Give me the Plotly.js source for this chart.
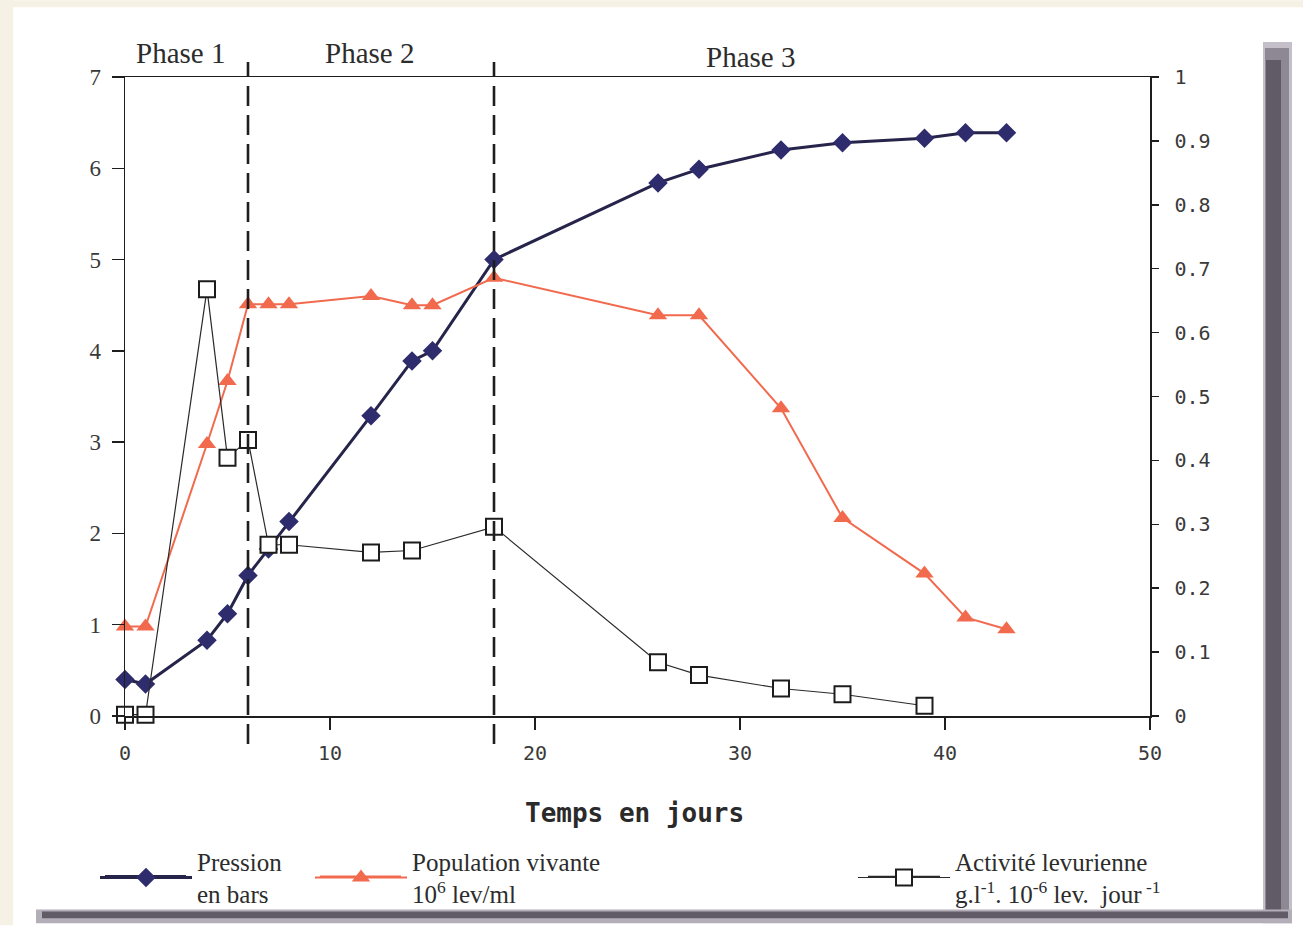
<!DOCTYPE html>
<html>
<head>
<meta charset="utf-8">
<script src="https://cdn.plot.ly/plotly-3.0.1.min.js"></script>
<style>
  html, body { margin: 0; padding: 0; background: #ffffff; }
  #chart { width: 1303px; height: 928px; }
</style>
</head>
<body>
<div id="chart"></div>
<script>
// ---- Data ----
const daysPression = [0, 1, 4, 5, 6, 7, 8, 12, 14, 15, 18, 26, 28, 32, 35, 39, 41, 43];
const pression     = [0.40, 0.35, 0.83, 1.12, 1.54, 1.83, 2.13, 3.29, 3.89, 4.00, 5.00, 5.84, 5.99, 6.20, 6.28, 6.33, 6.39, 6.39];

const daysPopulation = [0, 1, 4, 5, 6, 7, 8, 12, 14, 15, 18, 26, 28, 32, 35, 39, 41, 43];
const population     = [0.98, 0.98, 2.98, 3.67, 4.51, 4.51, 4.51, 4.60, 4.50, 4.50, 4.80, 4.39, 4.39, 3.37, 2.17, 1.56, 1.08, 0.95];

const daysActivite = [0, 1, 4, 5, 6, 7, 8, 12, 14, 18, 26, 28, 32, 35, 39];
const activite     = [0.002, 0.002, 0.668, 0.404, 0.432, 0.268, 0.268, 0.256, 0.259, 0.296, 0.084, 0.064, 0.043, 0.034, 0.016];

const phaseBounds = [6, 18];
const phaseLabels = ["Phase 1", "Phase 2", "Phase 3"];
const phaseLabelX = [2.7, 11.95, 30.5];

const xTicks = [0, 10, 20, 30, 40, 50];
const yLeftTicks = [0, 1, 2, 3, 4, 5, 6, 7];
const yRightTicks = [0, 0.1, 0.2, 0.3, 0.4, 0.5, 0.6, 0.7, 0.8, 0.9, 1];

const legendNames = [
  "Pression<br>en bars",
  "Population vivante<br>10<sup>6</sup> lev/ml",
  "Activité levurienne<br>g.l<sup>-1</sup>. 10<sup>-6</sup> lev.  jour<sup> -1</sup>"
];

// ---- Geometry helpers (pixel -> paper) ----
const W = 1303, H = 928;
const M = { l: 125, r: 153, t: 77, b: 210 };
const PW = W - M.l - M.r, PH = H - M.t - M.b;
const px = v => (v - M.l) / PW;
const py = v => (H - M.b - v) / PH;

const navy = '#2e2c6c';
const navyLine = '#26244a';
const salmon = '#f26a4e';
const ink = '#1c1c1c';
const serif = 'Liberation Serif, Times New Roman, serif';
const mono = 'DejaVu Sans Mono, Liberation Mono, monospace';

const traces = [
  {
    x: daysPression, y: pression, name: legendNames[0],
    type: 'scatter', mode: 'lines+markers', xaxis: 'x', yaxis: 'y',
    line: { color: navyLine, width: 3 },
    marker: { symbol: 'diamond', size: 15, color: navy, line: { width: 0 } },
    cliponaxis: false, legend: 'legend'
  },
  {
    x: daysPopulation, y: population, name: legendNames[1],
    type: 'scatter', mode: 'lines+markers', xaxis: 'x', yaxis: 'y',
    line: { color: salmon, width: 2 },
    marker: { symbol: 'triangle-up', size: 16, color: salmon, line: { width: 0 } },
    cliponaxis: false, legend: 'legend2'
  },
  {
    x: daysActivite, y: activite, name: legendNames[2],
    type: 'scatter', mode: 'lines+markers', xaxis: 'x', yaxis: 'y2',
    line: { color: '#2a2a2a', width: 1.2 },
    marker: { symbol: 'square', size: 16, color: '#ffffff', line: { color: ink, width: 2 } },
    cliponaxis: false, legend: 'legend3'
  }
];

const shapes = [];
// page decoration: beige strips and card shadow
const beige = '#f5f1e4';
shapes.push({ type: 'rect', xref: 'paper', yref: 'paper', x0: px(0), x1: px(W), y0: py(0), y1: py(7), fillcolor: beige, line: { width: 0 }, layer: 'below' });
shapes.push({ type: 'rect', xref: 'paper', yref: 'paper', x0: px(0), x1: px(13), y0: py(0), y1: py(H), fillcolor: beige, line: { width: 0 }, layer: 'below' });
// right shadow (layered for a soft edge)
shapes.push({ type: 'rect', xref: 'paper', yref: 'paper', x0: px(1263), x1: px(1292), y0: py(42), y1: py(926), fillcolor: '#c4bfc8', line: { width: 0 }, layer: 'below' });
shapes.push({ type: 'rect', xref: 'paper', yref: 'paper', x0: px(1265), x1: px(1289), y0: py(48), y1: py(924), fillcolor: '#8e8894', line: { width: 0 }, layer: 'below' });
shapes.push({ type: 'rect', xref: 'paper', yref: 'paper', x0: px(1266), x1: px(1281), y0: py(60), y1: py(922), fillcolor: '#615b68', line: { width: 0 }, layer: 'below' });
// bottom shadow
shapes.push({ type: 'rect', xref: 'paper', yref: 'paper', x0: px(36), x1: px(1292), y0: py(912), y1: py(926), fillcolor: '#b3aeb7', line: { width: 0 }, layer: 'below' });
shapes.push({ type: 'rect', xref: 'paper', yref: 'paper', x0: px(42), x1: px(1288), y0: py(914), y1: py(921), fillcolor: '#615b68', line: { width: 0 }, layer: 'below' });

// phase separators
phaseBounds.forEach(b => {
  shapes.push({ type: 'line', xref: 'x', yref: 'paper', x0: b, x1: b, y0: py(746), y1: py(62),
    line: { color: '#1e1e1e', width: 2.6, dash: '20px,9px' } });
});

// legend line extensions (legend samples are longer in the reference)
const legY = py(879);
shapes.push({ type: 'line', xref: 'paper', yref: 'paper', x0: px(105), x1: px(186), y0: legY, y1: legY, line: { color: navyLine, width: 3 } });
shapes.push({ type: 'line', xref: 'paper', yref: 'paper', x0: px(320), x1: px(401), y0: legY, y1: legY, line: { color: salmon, width: 2 } });
shapes.push({ type: 'line', xref: 'paper', yref: 'paper', x0: px(868), x1: px(940), y0: legY, y1: legY, line: { color: '#2a2a2a', width: 1.5 } });

const annotations = phaseLabels.map((t, i) => ({
  text: t, x: phaseLabelX[i], xref: 'x', y: py(i === 2 ? 57 : 53), yref: 'paper',
  showarrow: false, xanchor: 'center', yanchor: 'middle',
  font: { family: serif, size: 29, color: '#2c2c2c' }
}));
annotations.push({
  text: '<b>Temps en jours</b>', x: px(634), xref: 'paper', y: py(815), yref: 'paper',
  showarrow: false, xanchor: 'center', yanchor: 'middle',
  font: { family: mono, size: 26, color: '#2a2a2a' }
});

const legendBase = {
  orientation: 'v', xanchor: 'left', yanchor: 'middle', y: py(880),
  bgcolor: 'rgba(0,0,0,0)', borderwidth: 0, itemwidth: 92, valign: 'middle',
  font: { family: serif, size: 25, color: '#2c2c2c' }
};

const axisCommon = { showgrid: false, zeroline: false, fixedrange: true };

const layout = {
  width: W, height: H,
  margin: M,
  paper_bgcolor: '#ffffff', plot_bgcolor: '#ffffff',
  showlegend: true,
  xaxis: Object.assign({}, axisCommon, {
    range: [0, 50], tickvals: xTicks, ticktext: xTicks.map(String),
    showline: true, linecolor: '#1e1e1e', linewidth: 1.5, mirror: true,
    ticks: 'outside', ticklen: 12, tickwidth: 1.5, tickcolor: '#1e1e1e',
    tickfont: { family: mono, size: 20, color: '#3a3a3a' }, ticklabelstandoff: 6,
    anchor: 'y'
  }),
  xaxis2: Object.assign({}, axisCommon, {
    range: [0, 50], tickvals: xTicks, overlaying: 'x', anchor: 'y',
    showline: false, ticks: 'inside', ticklen: 5, tickwidth: 1.5, tickcolor: '#1e1e1e',
    showticklabels: false
  }),
  yaxis: Object.assign({}, axisCommon, {
    range: [0, 7], tickvals: yLeftTicks, ticktext: yLeftTicks.map(String),
    showline: true, linecolor: '#1e1e1e', linewidth: 1.5,
    ticks: 'outside', ticklen: 12, tickwidth: 1.5, tickcolor: '#1e1e1e',
    tickfont: { family: serif, size: 23, color: '#3a3a3a' }, ticklabelstandoff: 6,
    anchor: 'x'
  }),
  yaxis3: Object.assign({}, axisCommon, {
    range: [0, 7], tickvals: yLeftTicks, overlaying: 'y', anchor: 'x', side: 'left',
    showline: false, ticks: 'inside', ticklen: 7, tickwidth: 1.5, tickcolor: '#1e1e1e',
    showticklabels: false
  }),
  yaxis2: Object.assign({}, axisCommon, {
    range: [0, 1], tickvals: yRightTicks, ticktext: yRightTicks.map(String),
    overlaying: 'y', side: 'right', anchor: 'x',
    showline: true, linecolor: '#1e1e1e', linewidth: 1.5,
    ticks: 'outside', ticklen: 7, tickwidth: 1.5, tickcolor: '#1e1e1e',
    tickfont: { family: mono, size: 20, color: '#3a3a3a' }, ticklabelstandoff: 12
  }),
  yaxis4: Object.assign({}, axisCommon, {
    range: [0, 1], tickvals: yRightTicks, overlaying: 'y', side: 'right', anchor: 'x',
    showline: false, ticks: 'inside', ticklen: 10, tickwidth: 1.5, tickcolor: '#1e1e1e',
    showticklabels: false
  }),
  legend: Object.assign({}, legendBase, { x: px(95) }),
  legend2: Object.assign({}, legendBase, { x: px(310) }),
  legend3: Object.assign({}, legendBase, { x: px(853) }),
  shapes: shapes,
  annotations: annotations
};

Plotly.newPlot('chart', traces, layout, { displayModeBar: false, staticPlot: true });
</script>
</body>
</html>
